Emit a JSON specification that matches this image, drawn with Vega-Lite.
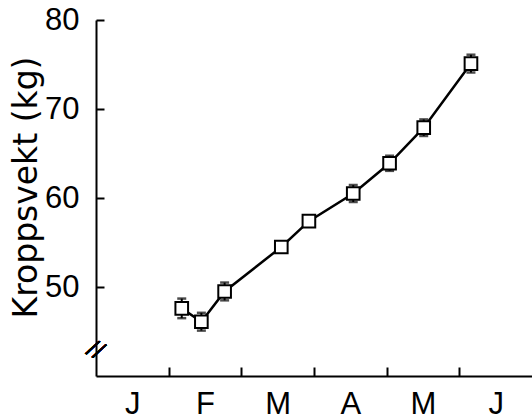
{
  "$schema": "https://vega.github.io/schema/vega-lite/v6.json",
  "autosize": "none",
  "width": 436,
  "height": 356,
  "padding": {"left": 96, "top": 20, "right": 0, "bottom": 44},
  "background": "white",
  "config": {"view": {"stroke": null}},
  "data": {"values": [
    {"month": 1.18, "kg": 47.6, "lo": 46.5, "hi": 48.7},
    {"month": 1.45, "kg": 46.1, "lo": 45.1, "hi": 47.1},
    {"month": 1.77, "kg": 49.5, "lo": 48.5, "hi": 50.5},
    {"month": 2.55, "kg": 54.5, "lo": 54.0, "hi": 55.0},
    {"month": 2.93, "kg": 57.4, "lo": 56.9, "hi": 57.9},
    {"month": 3.54, "kg": 60.5, "lo": 59.55, "hi": 61.45},
    {"month": 4.04, "kg": 63.9, "lo": 63.05, "hi": 64.75},
    {"month": 4.51, "kg": 67.9, "lo": 66.97, "hi": 68.83},
    {"month": 5.16, "kg": 75.1, "lo": 74.1, "hi": 76.1}
  ]},
  "encoding": {
    "x": {"field": "month", "type": "quantitative",
      "scale": {"domain": [0, 6], "nice": false, "zero": false},
      "axis": {
        "title": null,
        "values": [0.5, 1, 1.5, 2, 2.5, 3, 3.5, 4, 4.5, 5, 5.5],
        "labelExpr": "datum.value % 1 == 0 ? '' : ['J','F','M','A','M','J'][floor(datum.value)]",
        "labelFont": "Liberation Sans", "labelFontSize": 31, "labelColor": "black",
        "labelPadding": 22, "labelOverlap": false, "labelFlush": false,
        "tickSize": -9, "tickWidth": 2, "tickColor": "black",
        "tickOpacity": {"condition": {"test": "datum.value % 1 == 0", "value": 1}, "value": 0},
        "domainColor": "black", "domainWidth": 2, "grid": false
      }
    },
    "y": {"field": "kg", "type": "quantitative",
      "scale": {"domain": [40, 80], "nice": false, "zero": false},
      "axis": {
        "title": "Kroppsvekt (kg)",
        "titleFont": "DejaVu Sans", "titleFontSize": 33, "titleFontWeight": "normal", "titleColor": "black",
        "titleX": -53, "titleY": 167,
        "values": [50, 60, 70, 80],
        "labelFont": "Liberation Sans", "labelFontSize": 31, "labelColor": "black",
        "labelPadding": 25,
        "tickSize": -8, "tickWidth": 2, "tickColor": "black",
        "domainColor": "black", "domainWidth": 2, "grid": false
      }
    }
  },
  "layer": [
    {"mark": {"type": "rule", "color": "black", "strokeWidth": 2},
     "encoding": {"y": {"field": "lo", "type": "quantitative"}, "y2": {"field": "hi"}}},
    {"mark": {"type": "tick", "orient": "horizontal", "color": "black", "size": 9, "thickness": 2.5},
     "encoding": {"y": {"field": "lo", "type": "quantitative"}}},
    {"mark": {"type": "tick", "orient": "horizontal", "color": "black", "size": 9, "thickness": 2.5},
     "encoding": {"y": {"field": "hi", "type": "quantitative"}}},
    {"mark": {"type": "line", "color": "black", "strokeWidth": 2.5}},
    {"mark": {"type": "point", "shape": "square", "size": 160, "filled": true, "fill": "white", "stroke": "black", "strokeWidth": 2, "opacity": 1}},
    {"mark": {"type": "text", "text": "//", "fontSize": 22, "font": "DejaVu Sans", "angle": 30, "color": "black"},
     "encoding": {"x": {"datum": 0}, "y": {"datum": 43}}}
  ]
}
